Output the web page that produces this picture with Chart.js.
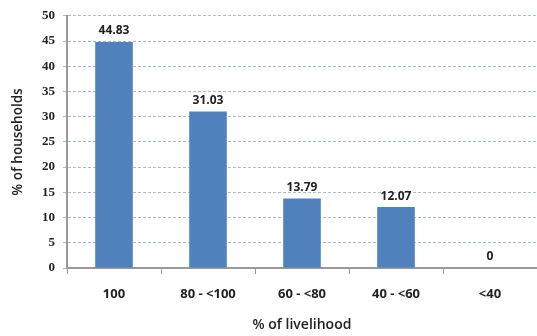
<!DOCTYPE html>
<html lang="en">
<head>
    <meta charset="UTF-8">
    <title>Livelihood chart</title>
    <script src="https://cdn.jsdelivr.net/npm/chart.js"></script>
    <style>
        html, body { margin: 0; padding: 0; background: #fff; }
        .box { width: 537px; height: 336px; }
    </style>
</head>
<body>
    <div class="box">
        <canvas id="myChart" width="537" height="336"></canvas>
    </div>
<script>
    // dados
    var categorias = ['100', '80 - <100', '60 - <80', '40 - <60', '<40'];
    var valores = [44.83, 31.03, 13.79, 12.07, 0];
    var rotulos = ['44.83', '31.03', '13.79', '12.07', '0'];
    var ticksY = [0, 5, 10, 15, 20, 25, 30, 35, 40, 45, 50];

    // escreve o valor em cima de cada barra
    const valorNaBarra = {
        id: 'valorNaBarra',
        afterDatasetsDraw(chart) {
            const ctx = chart.ctx;
            const meta = chart.getDatasetMeta(0);
            ctx.save();
            ctx.font = 'bold 12px "Open Sans", sans-serif';
            ctx.fillStyle = '#222';
            ctx.textAlign = 'center';
            ctx.textBaseline = 'bottom';
            meta.data.forEach(function (bar, i) {
                ctx.fillText(rotulos[i], bar.x, bar.y - 5);
            });
            ctx.restore();
        }
    };

    const config = {
        type: 'bar',
        data: {
            labels: categorias,
            datasets: [{
                data: valores,
                backgroundColor: '#4f81bd',
                borderWidth: 0,
                barPercentage: 0.4,
                categoryPercentage: 1
            }]
        },
        options: {
            responsive: false,
            animation: false,
            layout: { padding: { top: 14, right: 0, left: 10, bottom: 3 } },
            plugins: {
                legend: { display: false },
                tooltip: { enabled: false }
            },
            scales: {
                x: {
                    offset: true,
                    grid: {
                        offset: true,
                        drawOnChartArea: false,
                        color: '#999',
                        tickLength: 6
                    },
                    border: { color: '#999', width: 2 },
                    ticks: {
                        color: '#222',
                        font: { family: '"Open Sans", sans-serif', size: 13, weight: 'bold' },
                        padding: 12
                    },
                    title: {
                        display: true,
                        text: '% of livelihood',
                        color: '#222',
                        font: { family: '"Open Sans", sans-serif', size: 14, weight: '600' },
                        padding: { top: 6, bottom: 0 }
                    },
                    afterFit: function (scale) { scale.height = 65; }
                },
                y: {
                    min: 0,
                    max: 50,
                    afterBuildTicks: function (scale) {
                        scale.ticks = ticksY.map(function (v) { return { value: v }; });
                    },
                    grid: {
                        color: '#a9bcd6',
                        tickLength: 4
                    },
                    border: { color: '#999', width: 2, dash: [3, 2] },
                    ticks: {
                        color: '#222',
                        font: { family: '"Liberation Serif", serif', size: 13, weight: 'bold' },
                        padding: 8
                    },
                    title: {
                        display: true,
                        text: '% of households',
                        color: '#222',
                        font: { family: '"Open Sans", sans-serif', size: 13.5, weight: '600' },
                        padding: { top: 0, bottom: 6 }
                    },
                    afterFit: function (scale) { scale.width = 57; }
                }
            }
        },
        plugins: [valorNaBarra]
    };

    new Chart(document.getElementById('myChart'), config);
</script>
</body>
</html>
